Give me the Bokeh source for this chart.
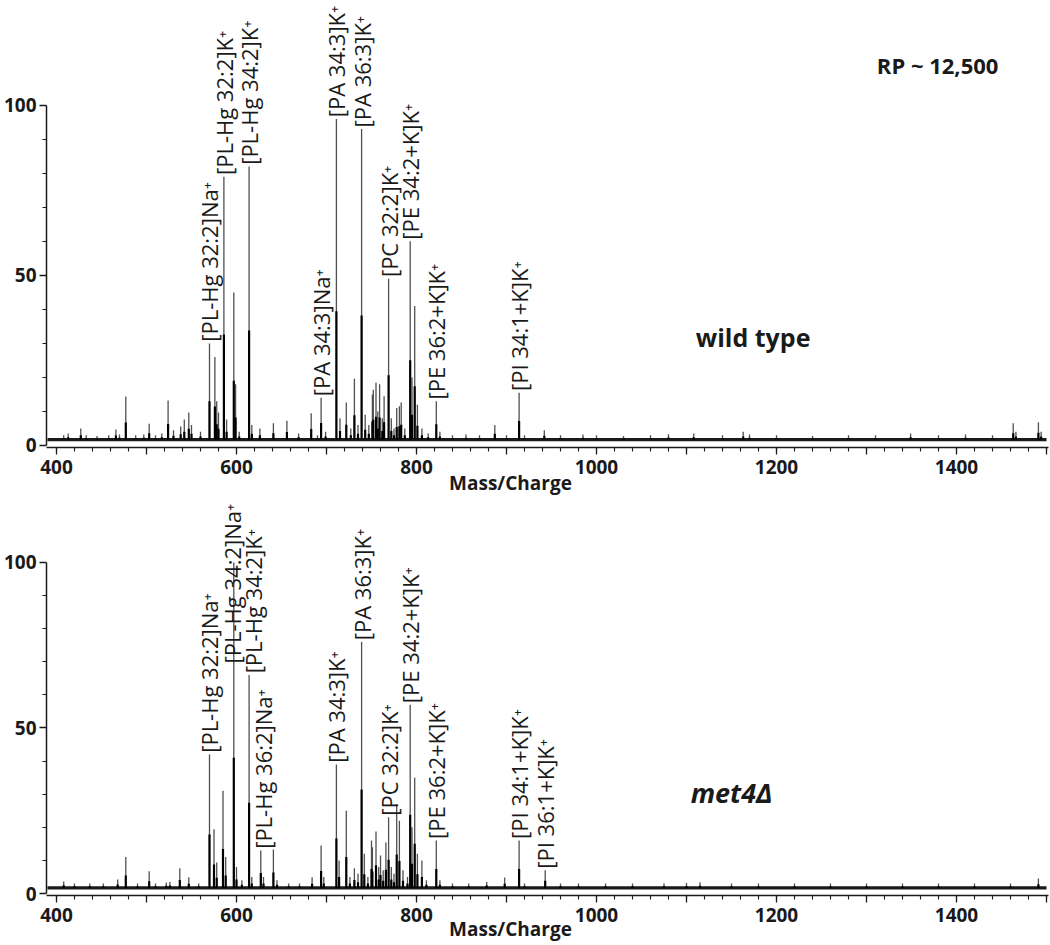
from math import pi
from bokeh.plotting import figure
from bokeh.models import FixedTicker, CustomJSTickFormatter, Label, ColumnDataSource
from bokeh.layouts import column
from bokeh.embed import file_html
from bokeh.resources import INLINE
from bokeh.core.properties import value

# ---------------- data ----------------
noise_level = 1.7

wt_mz = [408, 413, 427, 433, 445, 458, 466, 470, 477, 488, 497, 503, 510, 517, 524, 530, 538, 542,
         547, 550, 560, 570, 576, 578, 580, 586, 589, 597, 599, 603, 614, 617, 626, 641, 656, 669,
         683, 690, 694, 699, 711, 715, 722, 727, 731, 735, 739, 743, 747, 751, 752, 755, 757, 759,
         762, 764, 769, 772, 775, 778, 781, 783, 787, 793, 795, 798, 801, 806, 813, 822, 826, 840,
         855, 870, 887, 900, 914, 920, 942, 960, 985, 1000, 1030, 1060, 1080, 1108, 1140, 1163,
         1170, 1200, 1240, 1280, 1310, 1349, 1380, 1410, 1440, 1463, 1466, 1491, 1494]
wt_int = [3, 3.5, 5, 3, 2.8, 3, 4.7, 3.2, 14.4, 3, 3.2, 6.4, 3, 3.5, 13.2, 4.5, 5.6, 7.6,
          9.7, 6, 4, 30, 26, 13, 9.7, 79, 7.6, 45, 18, 4, 82, 6, 5, 6.5, 7.3, 3.5,
          9.5, 3, 14, 4, 96, 8, 12.6, 5, 19.6, 6, 93, 9, 6, 15, 16.4, 18.5, 10, 18,
          8, 14.5, 49, 8, 5, 11, 11.5, 12.6, 5, 60, 20, 41, 12, 5, 3.5, 13, 4, 3,
          3.2, 3, 6, 3, 15.5, 3, 4.5, 3, 3.2, 3, 2.8, 3, 3.3, 3.5, 3, 4,
          3.2, 3, 2.8, 3, 3, 3.5, 3, 3.2, 3, 6.5, 4, 6.8, 4]

met_mz = [408, 420, 437, 452, 468, 477, 490, 503, 510, 522, 526, 537, 547, 558, 570, 575, 578, 585,
          588, 597, 600, 606, 614, 617, 627, 630, 641, 645, 658, 670, 684, 694, 697, 711, 714, 722,
          726, 731, 735, 739, 742, 746, 750, 751, 755, 758, 760, 763, 766, 769, 772, 775, 778, 781,
          785, 790, 793, 795, 798, 801, 806, 811, 822, 826, 840, 858, 878, 898, 914, 920, 943, 960,
          980, 1010, 1040, 1075, 1100, 1115, 1150, 1180, 1220, 1260, 1300, 1340, 1380, 1420, 1460, 1491]
met_int = [3.6, 3, 3, 3, 4.2, 11, 3, 6.7, 3, 3.3, 3.5, 7.6, 4.9, 3, 42, 19.4, 9.4, 31,
           11, 100, 8, 4, 66, 5, 13, 5, 13.3, 4, 3, 3, 4.9, 14.5, 5, 39, 10, 25,
           5, 7.6, 6, 76, 12, 5, 16, 14, 18.7, 8, 11.5, 7, 15.4, 23, 8, 6, 27, 22,
           7, 5, 57, 20, 35, 12, 10, 4, 16, 4, 3, 3, 3.5, 4.8, 16, 3, 7, 3,
           3, 3, 3, 3, 3.2, 3.4, 3, 3, 3, 3, 3, 3, 3, 3, 3, 4.5]

wt_lab_mz = [570, 586, 614, 694, 711, 739, 769, 793, 822, 914]
wt_lab_at = [30, 79, 82, 14, 96, 93, 49, 60, 13, 15.5]
wt_lab_txt = ["[PL-Hg 32:2]Na⁺", "[PL-Hg 32:2]K⁺", "[PL-Hg 34:2]K⁺", "[PA 34:3]Na⁺",
              "[PA 34:3]K⁺", "[PA 36:3]K⁺", "[PC 32:2]K⁺", "[PE 34:2+K]K⁺",
              "[PE 36:2+K]K⁺", "[PI 34:1+K]K⁺"]
wt_lab_dx = [0, 0, 0, 0, 0, 0, 0, 0, 0, 0]

met_lab_mz = [570, 597, 614, 627, 711, 739, 769, 793, 822, 914, 943]
met_lab_at = [42, 69, 66, 13, 39, 76, 23, 57, 16, 16, 7]
met_lab_txt = ["[PL-Hg 32:2]Na⁺", "[PL-Hg 34:2]Na⁺", "[PL-Hg 34:2]K⁺", "[PL-Hg 36:2]Na⁺",
               "[PA 34:3]K⁺", "[PA 36:3]K⁺", "[PC 32:2]K⁺", "[PE 34:2+K]K⁺",
               "[PE 36:2+K]K⁺", "[PI 34:1+K]K⁺", "[PI 36:1+K]K⁺"]
met_lab_dx = [0, -2, 4, 2, 0, 0, 0, 0, 0, 0, 0]

x_major = [400, 500, 600, 700, 800, 900, 1000, 1100, 1200, 1300, 1400, 1500]
x_minor = list(range(400, 1501, 20))
y_major = [0, 50, 100]
y_minor = [10, 20, 30, 40, 60, 70, 80, 90]
x_title = "Mass/Charge"

FONT = "Open Sans"
INK = "#1a1a1a"
PAD = "\u00a0" * 15   # shifts the centred axis title to the left, as in the reference


def make_panel(mz, inten, lab_mz, lab_at, lab_txt, lab_dx, y_end, height, border_bottom, title_standoff):
    p = figure(width=1050, height=height, x_range=(388.9, 1502.2), y_range=(-0.6, y_end),
               output_backend="svg", toolbar_location=None,
               min_border_left=46, min_border_right=2, min_border_top=0,
               min_border_bottom=border_bottom)
    p.xgrid.visible = False
    p.ygrid.visible = False
    p.outline_line_color = None
    p.background_fill_color = "white"
    p.border_fill_color = "white"

    src = ColumnDataSource(dict(mz=mz, h=inten,
                                base=[noise_level] * len(mz),
                                body=[noise_level + 0.4 * (v - noise_level) for v in inten]))
    # noise band
    p.line(x=[390, 1500], y=[noise_level, noise_level], line_color=INK, line_width=3.2)
    # full peak (thin) and peak body (thick)
    p.segment(x0="mz", y0="base", x1="mz", y1="h", source=src, line_color="#505050", line_width=1.3)
    p.segment(x0="mz", y0="base", x1="mz", y1="body", source=src, line_color="black", line_width=2.2)

    lsrc = ColumnDataSource(dict(x=lab_mz, y=[v + 0.5 for v in lab_at], t=lab_txt, dx=lab_dx))
    p.text(x="x", y="y", text="t", source=lsrc, angle=pi / 2, text_align="left", x_offset="dx",
           text_baseline="middle", text_font=value(FONT), text_font_size="22px", text_color=INK)

    xa = p.xaxis[0]
    xa.ticker = FixedTicker(ticks=x_major, minor_ticks=x_minor)
    xa.formatter = CustomJSTickFormatter(code="return (Math.round(tick) % 200 === 0) ? String(Math.round(tick)) : '';")
    ya = p.yaxis[0]
    ya.ticker = FixedTicker(ticks=y_major, minor_ticks=y_minor)
    ya.bounds = (0, 100)
    for ax in (xa, ya):
        ax.axis_line_color = INK
        ax.axis_line_width = 1.5
        ax.major_tick_line_color = INK
        ax.minor_tick_line_color = INK
        ax.major_tick_line_width = 1.3
        ax.minor_tick_line_width = 1.1
        ax.major_tick_in = 0
        ax.major_tick_out = 7
        ax.minor_tick_in = 0
        ax.minor_tick_out = 4
        ax.major_label_text_font = FONT
        ax.major_label_text_font_style = "bold"
        ax.major_label_text_font_size = "19px"
        ax.major_label_text_color = INK
    xa.major_label_standoff = 5
    ya.major_label_standoff = 3
    xa.axis_label = x_title + PAD
    xa.axis_label_text_font = FONT
    xa.axis_label_text_font_style = "bold"
    xa.axis_label_text_font_size = "19px"
    xa.axis_label_text_color = INK
    xa.axis_label_standoff = title_standoff
    return p


top = make_panel(wt_mz, wt_int, wt_lab_mz, wt_lab_at, wt_lab_txt, wt_lab_dx, 130.8, 498, 50, -7)
top.add_layout(Label(x=1379, y=111.7, text="RP ~ 12,500", text_align="center", text_baseline="middle",
                     text_font=FONT, text_font_style="bold", text_font_size="22px", text_color=INK))
top.add_layout(Label(x=1174, y=32, text="wild type", text_align="center", text_baseline="middle",
                     text_font=FONT, text_font_style="bold", text_font_size="25px", text_color=INK))

bottom = make_panel(met_mz, met_int, met_lab_mz, met_lab_at, met_lab_txt, met_lab_dx, 119.3, 447, 50, -9)
bottom.add_layout(Label(x=1150, y=30.5, text="met4Δ", text_align="center", text_baseline="middle",
                        text_font=FONT, text_font_style="bold italic", text_font_size="27px",
                        text_color=INK))

layout = column(top, bottom, spacing=0)
open("out.html", "w").write(file_html(layout, INLINE))
